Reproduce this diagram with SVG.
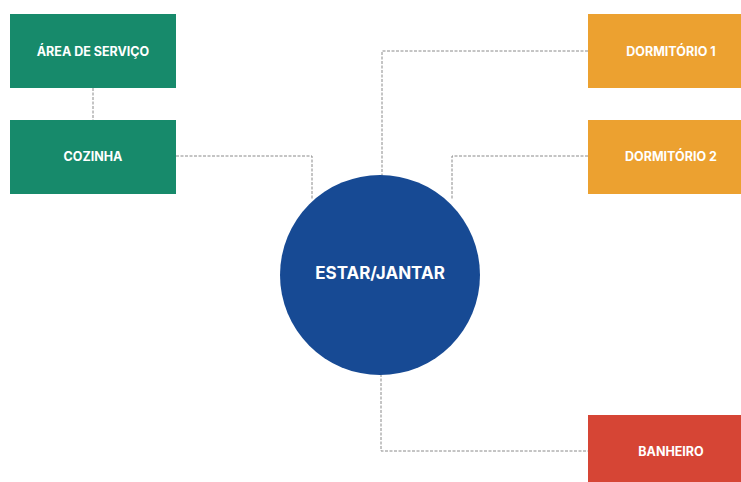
<svg xmlns="http://www.w3.org/2000/svg" width="741" height="482" viewBox="0 0 741 482">
<style>
.lbl{font-family:Inter,"Liberation Sans",sans-serif;font-weight:700;fill:#fff;text-anchor:middle;dominant-baseline:central}
.s{font-size:12.5px}
.c{fill:none;stroke:#8a8a8a;stroke-width:1;stroke-dasharray:3 1.5}
.g{fill:#178a6b}.o{fill:#eca130}.r{fill:#d64535}
</style>
<rect width="741" height="482" fill="#fff"/>
<g id="connectors">
<path class="c" d="M93 88V120"/>
<path class="c" d="M176 156H312V200"/>
<path class="c" d="M588 51H382V176"/>
<path class="c" d="M588 156H452V200"/>
<path class="c" d="M381 374V451H588"/>
</g>
<g id="area-servico"><rect class="g" x="10" y="14" width="166" height="74"/><text class="lbl s" x="93" y="51">ÁREA DE SERVIÇO</text></g>
<g id="cozinha"><rect class="g" x="10" y="120" width="166" height="74"/><text class="lbl s" x="93" y="156">COZINHA</text></g>
<g id="dormitorio1"><rect class="o" x="588" y="14" width="166" height="74"/><text class="lbl s" x="671" y="51">DORMITÓRIO 1</text></g>
<g id="dormitorio2"><rect class="o" x="588" y="120" width="166" height="74"/><text class="lbl s" x="671" y="156">DORMITÓRIO 2</text></g>
<g id="banheiro"><rect class="r" x="588" y="415" width="166" height="74"/><text class="lbl s" x="671" y="451">BANHEIRO</text></g>
<g id="estar-jantar"><circle cx="380" cy="275" r="100" fill="#174a94"/><text class="lbl" x="380" y="273" font-size="17">ESTAR/JANTAR</text></g>
</svg>
